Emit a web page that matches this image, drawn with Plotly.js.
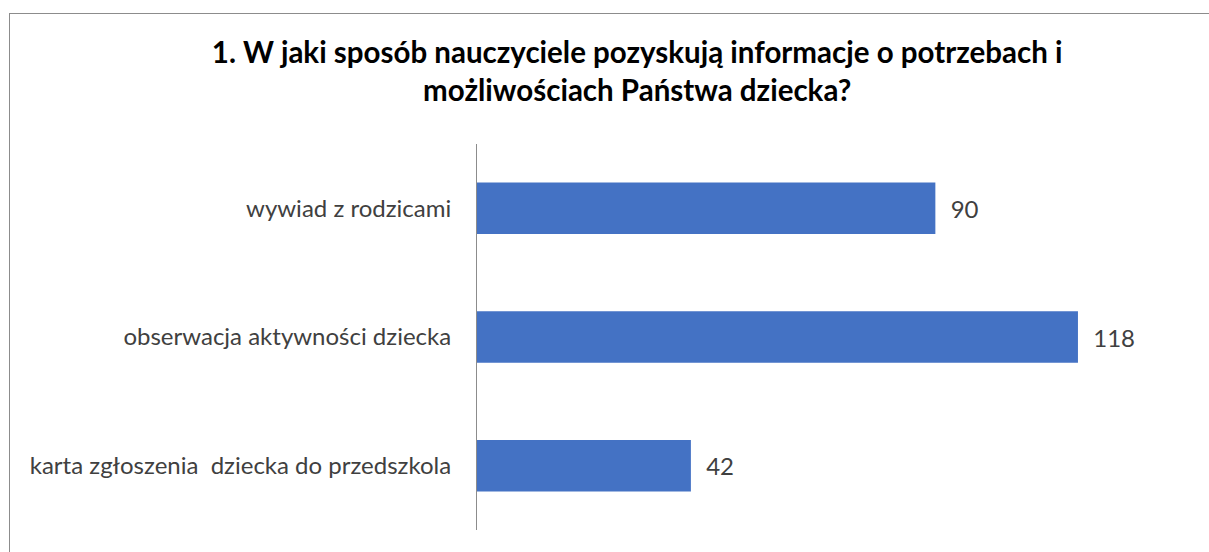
<!DOCTYPE html>
<html><head><meta charset="utf-8">
<script src="https://cdn.plot.ly/plotly-3.0.1.min.js"></script>
<style>
html,body{margin:0;padding:0;background:#fff;overflow:hidden}
#frame{position:absolute;left:9px;top:13px;width:1400px;height:700px;border:1px solid #8c8c8c;box-sizing:border-box}
#chart{position:absolute;left:0;top:0;width:1209px;height:552px}
</style></head>
<body>
<div id="frame"></div>
<div id="chart"></div>
<script>
const categories = ["wywiad z rodzicami", "obserwacja aktywności dziecka", "karta zgłoszenia  dziecka do przedszkola"];
const values = [90, 118, 42];
const titleText = "1. W jaki sposób nauczyciele pozyskują informacje o potrzebach i<br>możliwościach Państwa dziecka?";

const trace = {
  type: "bar", orientation: "h",
  x: values, y: categories,
  marker: {color: "#4472C4"},
  text: values.map(v => "  " + v), textposition: "outside",
  textfont: {family: "Lato, sans-serif", size: 24, color: "#404040"},
  cliponaxis: false, hoverinfo: "none"
};
const layout = {
  width: 1209, height: 552,
  paper_bgcolor: "rgba(0,0,0,0)", plot_bgcolor: "rgba(0,0,0,0)",
  margin: {l: 477, r: 19, t: 144, b: 22},
  bargap: 0.6,
  showlegend: false,
  title: {text: titleText, x: 0.527, xanchor: "center", y: 0.886, yanchor: "top",
    font: {family: "Lato, sans-serif", size: 29.5, color: "#000", weight: "bold"}},
  xaxis: {range: [0, 140], showgrid: false, zeroline: false, showticklabels: false, showline: false, ticks: ""},
  yaxis: {autorange: "reversed", showline: true, linecolor: "#8c8c8c", linewidth: 1,
    ticks: "", ticklabelstandoff: 20,
    tickfont: {family: "Lato, sans-serif", size: 24, color: "#404040"}}
};
Plotly.newPlot("chart", [trace], layout, {staticPlot: true});
</script>
</body></html>
